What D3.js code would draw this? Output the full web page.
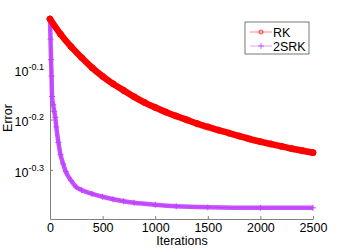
<!DOCTYPE html>
<html>
<head>
<meta charset="utf-8">
<script src="https://cdn.jsdelivr.net/npm/d3@7"></script>
<style>
  body { margin: 0; background: #fff; }
  text { font-family: "Liberation Sans", Arial, sans-serif; }
</style>
</head>
<body>
<script>
// chart data
var rkIter = [0,100,200,300,400,500,600,700,800,900,1000,1100,1200,1300,1400,1500,1600,1700,1800,1900,2000,2100,2200,2300,2400,2500];
var rkErr = [1.000,0.933,0.881,0.838,0.800,0.769,0.743,0.721,0.700,0.682,0.667,0.653,0.641,0.630,0.619,0.610,0.601,0.593,0.585,0.577,0.570,0.564,0.558,0.552,0.547,0.542];

var srkIter = [0,5,10,15,20,30,40,50,60,80,100,125,150,200,250,300,400,500,600,700,800,1000,1200,1500,2000,2500];
var srkErr = [1.000,0.912,0.830,0.770,0.701,0.675,0.655,0.637,0.610,0.568,0.537,0.515,0.497,0.477,0.463,0.457,0.449,0.443,0.438,0.434,0.431,0.427,0.424,0.422,0.421,0.421];

var xTicks = [0,500,1000,1500,2000,2500];
var yTickExp = ["-0.1","-0.2","-0.3"];

var seriesNames = ["RK", "2SRK"];

var W = 346, H = 249;
var padL = 50, padR = 313, padT = 19, padB = 219;

var svg = d3.select('body').append('svg').attr('width', W).attr('height', H);

var x = d3.scaleLinear().domain([0, 2500]).range([padL, padR]);
var y = d3.scaleLog().domain([0.4, 1]).range([padB, padT]);

var axisColor = '#808080';

// axes
var xAxis = svg.append('g').attr('transform', 'translate(0,' + padB + ')')
  .call(d3.axisBottom(x).tickValues(xTicks).tickFormat(d3.format('d')).tickSizeInner(-3).tickSizeOuter(0).tickPadding(4));
var yAxis = svg.append('g').attr('transform', 'translate(' + padL + ',0)')
  .call(d3.axisLeft(y).tickValues(yTickExp.map(function(e){ return Math.pow(10, +e); }))
    .tickSizeInner(-3).tickSizeOuter(0).tickPadding(6).tickFormat(function(){ return ''; }));

[xAxis, yAxis].forEach(function(g){
  g.select('.domain').attr('stroke', axisColor);
  g.selectAll('.tick line').attr('stroke', axisColor);
  g.selectAll('text').attr('fill', '#000').style('font-size', '12.5px').style('font-family', '"Liberation Sans", Arial, sans-serif');
});

// y labels like 10^-0.1
yAxis.selectAll('.tick text').each(function(d, i){
  var t = d3.select(this).attr('x', -6).attr('dy', '0.5em').attr('text-anchor', 'end');
  t.append('tspan').text('10');
  t.append('tspan').attr('dy', '-0.65em').style('font-size', '9px').text(yTickExp[i]);
});

// axis titles
svg.append('text').attr('x', 182).attr('y', 245).attr('text-anchor', 'middle')
  .style('font-size', '12.5px').text('Iterations');
svg.append('text').attr('transform', 'translate(12,' + 118 + ') rotate(-90)').attr('text-anchor', 'middle')
  .style('font-size', '12.5px').text('Error');

var red = '#ff0000', purple = '#c040ff';

var line = d3.line().x(function(d){ return x(d[0]); }).y(function(d){ return y(d[1]); }).curve(d3.curveMonotoneX);

var rk = d3.zip(rkIter, rkErr);
var srk = d3.zip(srkIter, srkErr);

// 2SRK
svg.append('path').datum(srk).attr('d', line).attr('fill', 'none').attr('stroke', purple).attr('stroke-width', 4.5).attr('opacity', 0.9);
svg.append('path').datum(srk).attr('d', line).attr('fill', 'none').attr('stroke', purple).attr('stroke-width', 1);
svg.selectAll('.srk').data(srk).enter().append('path').attr('class', 'srk')
  .attr('d', 'M-3,0H3M0,-3V3')
  .attr('transform', function(d){ return 'translate(' + x(d[0]) + ',' + y(d[1]) + ')'; })
  .attr('stroke', purple).attr('stroke-width', 1);

// RK
svg.append('path').datum(rk).attr('d', line).attr('fill', 'none').attr('stroke', red).attr('stroke-width', 6.5).attr('stroke-linecap', 'round');
svg.selectAll('.rk').data(rk).enter().append('circle').attr('class', 'rk')
  .attr('cx', function(d){ return x(d[0]); }).attr('cy', function(d){ return y(d[1]); })
  .attr('r', 3).attr('fill', red).attr('stroke', red);

// legend
var lg = svg.append('g').attr('transform', 'translate(245,22)');
lg.append('rect').attr('width', 64).attr('height', 32).attr('fill', '#fff').attr('stroke', '#555').attr('stroke-width', 0.8);
seriesNames.forEach(function(name, i){
  var yy = 10 + i * 14;
  var c = i === 0 ? red : purple;
  lg.append('line').attr('x1', 5).attr('x2', 27).attr('y1', yy).attr('y2', yy).attr('stroke', c).attr('stroke-width', 0.8).attr('opacity', 0.6);
  if (i === 0) {
    lg.append('circle').attr('cx', 16).attr('cy', yy).attr('r', 2).attr('fill', 'none').attr('stroke', c).attr('stroke-width', 0.8);
  } else {
    lg.append('path').attr('d', 'M13,' + yy + 'H19M16,' + (yy - 3) + 'V' + (yy + 3)).attr('stroke', c).attr('stroke-width', 0.8);
  }
  lg.append('text').attr('x', 28).attr('y', yy + 4.5).style('font-size', '12.5px').text(name);
});
</script>
</body>
</html>
